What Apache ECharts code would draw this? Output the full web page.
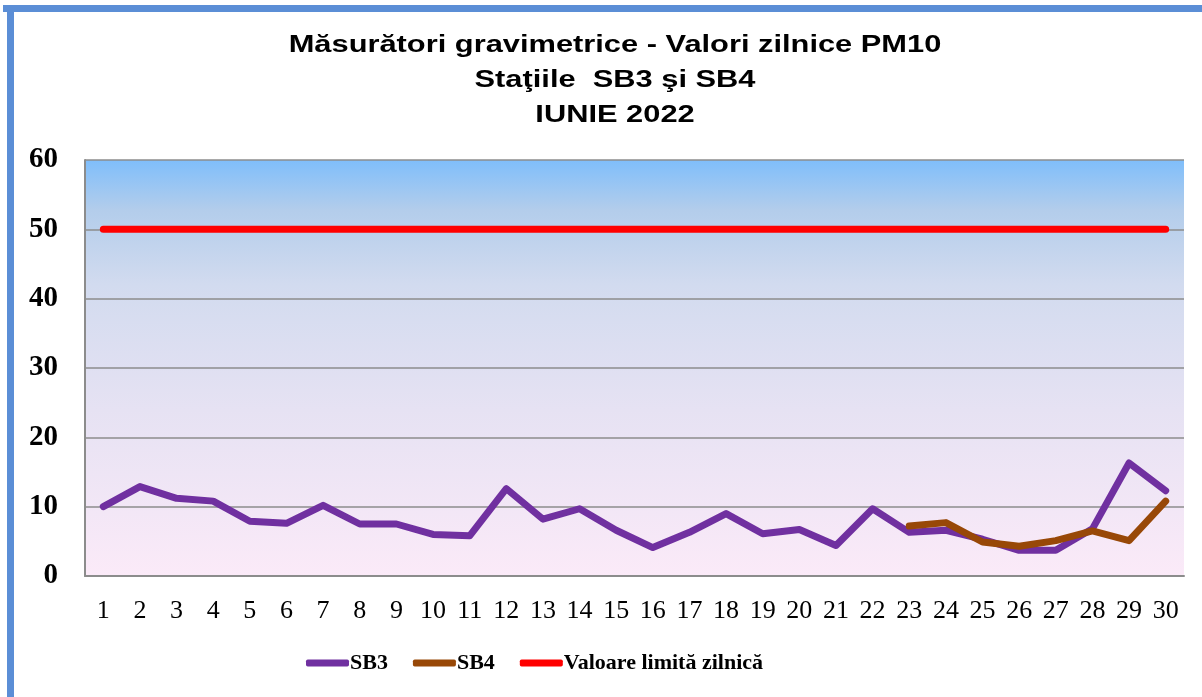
<!DOCTYPE html>
<html><head><meta charset="utf-8">
<script src="https://cdn.jsdelivr.net/npm/echarts@6/dist/echarts.min.js"></script>
<style>html,body{margin:0;padding:0;background:#fff}#c{width:1202px;height:697px}</style>
</head><body><div id="c"></div>
<script>
const days = ['1','2','3','4','5','6','7','8','9','10','11','12','13','14','15','16','17','18','19','20','21','22','23','24','25','26','27','28','29','30'];
const sb3 = [10.0,12.9,11.2,10.8,7.9,7.6,10.2,7.5,7.5,6.0,5.8,12.6,8.2,9.7,6.6,4.1,6.3,9.0,6.1,6.7,4.4,9.7,6.3,6.6,5.3,3.7,3.7,6.8,16.3,12.3];
const sb4 = [null,null,null,null,null,null,null,null,null,null,null,null,null,null,null,null,null,null,null,null,null,null,7.2,7.7,4.9,4.3,5.1,6.5,5.1,10.8];
const limit = [50,50,50,50,50,50,50,50,50,50,50,50,50,50,50,50,50,50,50,50,50,50,50,50,50,50,50,50,50,50];
const yTicks = [0,10,20,30,40,50,60];
const titleLines = ['Măsurători gravimetrice - Valori zilnice PM10','Staţiile  SB3 şi SB4','IUNIE 2022'];
const seriesNames = ['SB3','SB4','Valoare limită zilnică'];

const chart = echarts.init(document.getElementById('c'));
const serif = '"Liberation Serif","Times New Roman",serif';
const sans = '"Liberation Sans",Arial,sans-serif';
const titleY = [46, 81, 116];
const titleGraphics = titleLines.map((t, i) => ({
  type:'text', x:615, y:titleY[i], scaleX:1.34, z:10,
  style:{text:t, x:0, y:0, align:'center', verticalAlign:'middle', font:'bold 23px '+sans, fill:'#000'}
}));
chart.setOption({
  animation:false,
  backgroundColor:'#fff',
  graphic:[
    {type:'rect',shape:{x:3,y:5,width:1199,height:7},style:{fill:'#5b8ed6'},z:10},
    {type:'rect',shape:{x:7,y:5,width:7,height:692},style:{fill:'#5b8ed6'},z:10},
    {type:'text',x:1150,y:-14,style:{text:'g',x:0,y:0,align:'center',verticalAlign:'middle',font:'bold 28px '+serif,fill:'#000'},z:9}
  ].concat(titleGraphics),
  legend:{
    data: seriesNames,
    left: 301, top: 647,
    itemWidth: 43, itemHeight: 7, itemGap: 25,
    icon:'roundRect',
    textStyle:{fontFamily:serif,fontWeight:'bold',fontSize:22,color:'#000',padding:[0,0,0,-4]}
  },
  grid:{
    left:85,right:18,top:160,bottom:121,show:true,borderWidth:0,
    backgroundColor:{type:'linear',x:0,y:0,x2:0,y2:1,colorStops:[
      {offset:0,color:'#7fbefb'},
      {offset:0.12,color:'#b3cdeb'},
      {offset:0.3,color:'#d2dbef'},
      {offset:0.6,color:'#e6e2f3'},
      {offset:1,color:'#fbeaf8'}
    ]}
  },
  xAxis:{
    type:'category',data:days,boundaryGap:true,
    axisLine:{show:true,lineStyle:{color:'#8c8c8c',width:2}},
    axisTick:{show:false},
    axisLabel:{fontFamily:serif,fontSize:26,color:'#000',margin:22,interval:0}
  },
  yAxis:{
    type:'value',min:yTicks[0],max:yTicks[yTicks.length-1],interval:10,
    axisLine:{show:true,lineStyle:{color:'#8c8c8c',width:2}},
    axisTick:{show:false},
    splitLine:{show:true,lineStyle:{color:'#8c8c8c',width:1.5}},
    axisLabel:{fontFamily:serif,fontWeight:'bold',fontSize:29,color:'#000',margin:27}
  },
  series:[
    {name:seriesNames[0],type:'line',data:sb3,symbol:'none',lineStyle:{color:'#7030a0',width:7,cap:'round',join:'round'},itemStyle:{color:'#7030a0'},z:3},
    {name:seriesNames[1],type:'line',data:sb4,symbol:'none',lineStyle:{color:'#984807',width:7,cap:'round',join:'round'},itemStyle:{color:'#984807'},z:4},
    {name:seriesNames[2],type:'line',data:limit,symbol:'none',lineStyle:{color:'#ff0000',width:7,cap:'round'},itemStyle:{color:'#ff0000'},z:2}
  ]
});
</script></body></html>
